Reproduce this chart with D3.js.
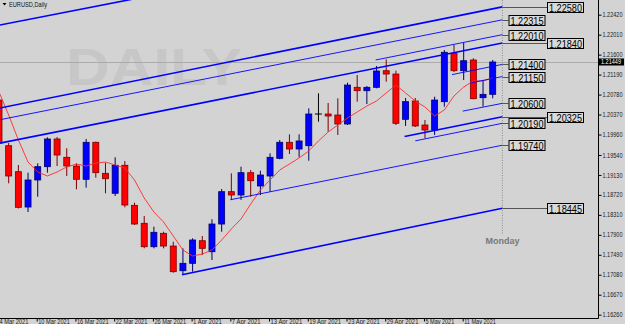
<!DOCTYPE html>
<html>
<head>
<meta charset="utf-8">
<script src="https://cdn.jsdelivr.net/npm/d3@7"></script>
<style>
  body { margin: 0; background: #d3d3d3; }
  svg { display: block; }
</style>
</head>
<body>
<div id="chart"></div>
<script>
// EURUSD daily candles, 4 Mar - 14 May 2021
const barDates = ["4 Mar 2021","5 Mar 2021","8 Mar 2021","9 Mar 2021","10 Mar 2021","11 Mar 2021","12 Mar 2021",
  "15 Mar 2021","16 Mar 2021","17 Mar 2021","18 Mar 2021","19 Mar 2021","22 Mar 2021","23 Mar 2021","24 Mar 2021",
  "25 Mar 2021","26 Mar 2021","29 Mar 2021","30 Mar 2021","31 Mar 2021","1 Apr 2021","2 Apr 2021","5 Apr 2021",
  "6 Apr 2021","7 Apr 2021","8 Apr 2021","9 Apr 2021","12 Apr 2021","13 Apr 2021","14 Apr 2021","15 Apr 2021",
  "16 Apr 2021","19 Apr 2021","20 Apr 2021","21 Apr 2021","22 Apr 2021","23 Apr 2021","26 Apr 2021","27 Apr 2021",
  "28 Apr 2021","29 Apr 2021","30 Apr 2021","3 May 2021","4 May 2021","5 May 2021","6 May 2021","7 May 2021",
  "10 May 2021","11 May 2021","12 May 2021","13 May 2021","14 May 2021"];

const opens = [1.20668,1.19730,1.19196,1.18471,1.19026,1.19299,1.19868,1.19492,1.19313,1.19040,1.19800,1.19163,
  1.18753,1.19328,1.18506,1.18137,1.17656,1.17931,1.17670,1.17163,1.17315,1.17779,1.17553,1.18122,1.18786,1.18718,
  1.19176,1.18903,1.19108,1.19471,1.19800,1.19662,1.19730,1.20381,1.20381,1.20360,1.20176,1.20929,1.20859,1.20929,
  1.21270,1.21202,1.20272,1.20648,1.20155,1.20052,1.20634,1.21627,1.21270,1.21490,1.20716,1.20785];
const highs = [1.20771,1.19786,1.19334,1.19176,1.19369,1.19903,1.19909,1.19677,1.19369,1.19868,1.19812,1.19381,
  1.19492,1.19416,1.18560,1.18287,1.18067,1.17964,1.17759,1.17623,1.17829,1.17876,1.18219,1.18841,1.19163,1.19299,
  1.19231,1.19217,1.19574,1.19847,1.19964,1.19964,1.20498,1.20806,1.20607,1.20703,1.21024,1.21182,1.20956,1.21367,
  1.21504,1.21270,1.20710,1.20710,1.20258,1.20736,1.21695,1.21798,1.21845,1.21525,1.21079,1.21490];
const lows = [1.19744,1.18958,1.18441,1.18369,1.18683,1.19176,1.19313,1.19108,1.18835,1.18868,1.19073,1.18753,
  1.18697,1.18465,1.18102,1.17623,1.17623,1.17623,1.17122,1.17075,1.17143,1.17486,1.17383,1.17964,1.18617,1.18617,
  1.18683,1.18718,1.18786,1.19451,1.19560,1.19492,1.19422,1.20223,1.20018,1.19950,1.20155,1.20634,1.20586,1.20909,
  1.21044,1.20155,1.20135,1.20114,1.19882,1.19950,1.20531,1.21243,1.21079,1.20683,1.20531,1.20703];
const closes = [1.19786,1.19108,1.18465,1.19026,1.19299,1.19868,1.19539,1.19313,1.19040,1.19800,1.19176,1.19052,
  1.19328,1.18512,1.18122,1.17656,1.17952,1.17670,1.17143,1.17315,1.17794,1.17623,1.18122,1.18786,1.18718,1.19176,
  1.19011,1.19128,1.19492,1.19800,1.19662,1.19827,1.20381,1.20381,1.20340,1.20176,1.20976,1.20859,1.20929,1.21264,
  1.21202,1.20190,1.20634,1.20135,1.20052,1.20668,1.21648,1.21270,1.21475,1.20695,1.20785,1.21449];

// red moving average line
const maValues = [1.20833,1.20360,1.19847,1.19395,1.19190,1.19108,1.19190,1.19293,1.19354,1.19313,1.19375,1.19395,
  1.19334,1.19272,1.19026,1.18656,1.18369,1.18163,1.17876,1.17588,1.17465,1.17506,1.17588,1.17794,1.18020,1.18225,
  1.18533,1.18820,1.19026,1.19231,1.19354,1.19478,1.19621,1.19827,1.20011,1.20155,1.20299,1.20422,1.20545,1.20648,
  1.20812,1.20976,1.20812,1.20648,1.20525,1.20340,1.20463,1.20751,1.20935,1.21059,1.21059,1.21120];

// price axis tick labels
const axisPrices = [1.22420,1.22010,1.21600,1.21190,1.20780,1.20370,1.19960,1.19540,1.19130,1.18720,1.18310,
  1.17900,1.17490,1.17080,1.16670,1.16260];

// date labels on the time axis
const dateTicks = ["4 Mar 2021","10 Mar 2021","16 Mar 2021","22 Mar 2021","26 Mar 2021","1 Apr 2021","7 Apr 2021",
  "13 Apr 2021","19 Apr 2021","23 Apr 2021","29 Apr 2021","5 May 2021","11 May 2021"];

// trend lines: start bar / start price -> end bar / end price (bar 52 = Monday)
const lineStartBar   = [-1, -1, 38.9, -1, 46.8, 48.7, 47.9, 41.9, 43, 23.9, 18.9, -1];
const lineStartPrice = [1.2046, 1.2022, 1.2149, 1.1974, 1.2119, 1.2102, 1.2044, 1.1992, 1.1983, 1.1862, 1.1708, 1.22165];
const lineEndBar     = [52, 52, 52, 52, 52, 52, 52, 52, 52, 52, 52, 20];
const lineEndPrice   = [1.22580, 1.22315, 1.22010, 1.21840, 1.21400, 1.21150, 1.20600, 1.20325, 1.20190, 1.19740, 1.18445, 1.2298];

const width = 625, height = 324;
const plotRight = 598, plotBottom = 318;
const thickLines = new Set([0, 3, 7, 10, 11]);
const font = "Liberation Sans, Arial, sans-serif";

const svg = d3.select("#chart")
  .append("svg")
  .attr("width", width)
  .attr("height", height)
  .style("background", "#d3d3d3");

// scales: bar index -> x, price -> y
const x = d3.scaleLinear().domain([0, 52]).range([-1, 502.4]);
const y = d3.scaleLinear().domain([1.1626, 1.2242]).range([314.7, 14.7]);

svg.append("defs").append("clipPath").attr("id", "plotClip")
  .append("rect").attr("x", 0).attr("y", 0).attr("width", plotRight).attr("height", plotBottom);

const plot = svg.append("g").attr("clip-path", "url(#plotClip)");

// watermark
plot.append("text")
  .attr("x", 66).attr("y", 85)
  .attr("font-family", font).attr("font-weight", "bold").attr("font-size", 52)
  .attr("fill", "#c7c7c7")
  .attr("textLength", 176).attr("lengthAdjust", "spacingAndGlyphs")
  .text("DAILY");

// current price line
plot.append("line")
  .attr("x1", 0).attr("x2", plotRight)
  .attr("y1", Math.round(y(closes[51])) + 0.5).attr("y2", Math.round(y(closes[51])) + 0.5)
  .attr("stroke", "#ababab");

// Monday separator
plot.append("line")
  .attr("x1", x(52)).attr("x2", x(52)).attr("y1", 0).attr("y2", 234)
  .attr("stroke", "#8c8c8c").attr("stroke-dasharray", "1,1.5");
plot.append("text")
  .attr("x", x(52)).attr("y", 244)
  .attr("text-anchor", "middle")
  .attr("font-family", font).attr("font-weight", "bold").attr("font-size", 9)
  .attr("fill", "#787878")
  .text("Monday");

// candles
const bars = barDates.map((d, i) => ({ i: i, o: opens[i], h: highs[i], l: lows[i], c: closes[i] }));
const barColor = d => d.c > d.o ? "#0000ff" : (d.c < d.o ? "#ff0000" : "#000000");
const edgeColor = d => d.c > d.o ? "#00006a" : (d.c < d.o ? "#7a0000" : "#000000");

const candles = plot.append("g").selectAll("g")
  .data(bars)
  .join("g");

candles.append("line")
  .attr("x1", d => x(d.i)).attr("x2", d => x(d.i))
  .attr("y1", d => y(d.h)).attr("y2", d => y(d.l))
  .attr("stroke", edgeColor);

candles.filter(d => d.c !== d.o).append("rect")
  .attr("x", d => x(d.i) - 3)
  .attr("y", d => y(Math.max(d.o, d.c)))
  .attr("width", 6)
  .attr("height", d => Math.max(1, Math.abs(y(d.o) - y(d.c))))
  .attr("fill", barColor)
  .attr("stroke", edgeColor).attr("stroke-width", 0.8);

candles.filter(d => d.c === d.o).append("line")
  .attr("x1", d => x(d.i) - 3.5).attr("x2", d => x(d.i) + 3.5)
  .attr("y1", d => y(d.o)).attr("y2", d => y(d.o))
  .attr("stroke", "#000");

// moving average
plot.append("path")
  .datum(maValues)
  .attr("d", d3.line().x((d, i) => x(i)).y(d => y(d)))
  .attr("fill", "none")
  .attr("stroke", "#ff2a2a")
  .attr("stroke-width", 0.9);

// trend lines
plot.append("g").selectAll("line")
  .data(lineEndPrice.map((p, i) => i))
  .join("line")
  .attr("x1", i => x(lineStartBar[i])).attr("y1", i => y(lineStartPrice[i]))
  .attr("x2", i => x(lineEndBar[i])).attr("y2", i => y(lineEndPrice[i]))
  .attr("stroke", "#0000ff")
  .attr("stroke-width", i => thickLines.has(i) ? 1.6 : 0.9);

// price labels at the end of each trend line
const labelled = lineEndPrice.map((p, i) => i).filter(i => lineEndBar[i] === 52);
const labels = plot.append("g").selectAll("g")
  .data(labelled)
  .join("g")
  .attr("transform", i => `translate(${thickLines.has(i) ? 547 : 508.5},${Math.round(y(lineEndPrice[i]))})`);

labels.append("line")
  .attr("x1", i => x(52) - (thickLines.has(i) ? 547 : 508.5)).attr("x2", 0)
  .attr("y1", 0.5).attr("y2", 0.5)
  .attr("stroke", "#555");

labels.append("rect")
  .attr("x", 0.5).attr("y", -4.5)
  .attr("width", 36).attr("height", 10)
  .attr("fill", "#d9d9d9").attr("stroke", "#000");

labels.append("text")
  .attr("x", 2).attr("y", 4.5)
  .attr("font-family", font).attr("font-size", 11)
  .attr("textLength", 33).attr("lengthAdjust", "spacingAndGlyphs")
  .attr("fill", "#000")
  .text(i => d3.format(".5f")(lineEndPrice[i]));

// price axis
const yAxis = d3.axisRight(y)
  .tickValues(axisPrices)
  .tickSize(3)
  .tickFormat(d3.format(".5f"));

svg.append("g")
  .attr("transform", `translate(${plotRight + 0.5},0)`)
  .call(yAxis)
  .call(g => g.select(".domain").remove())
  .call(g => g.selectAll("line").attr("stroke", "#000"))
  .call(g => g.selectAll("text")
    .attr("x", 4)
    .attr("font-family", font).attr("font-size", 6.5)
    .attr("textLength", 20).attr("lengthAdjust", "spacingAndGlyphs")
    .attr("fill", "#222"));

// time axis
const xAxis = d3.axisBottom(x)
  .tickValues(dateTicks.map(d => barDates.indexOf(d)))
  .tickSize(3)
  .tickFormat(i => barDates[i]);

svg.append("g")
  .attr("transform", `translate(-1,${plotBottom + 0.5})`)
  .call(xAxis)
  .call(g => g.select(".domain").remove())
  .call(g => g.selectAll("line").attr("stroke", "#000"))
  .call(g => g.selectAll("text")
    .attr("text-anchor", "start")
    .attr("x", 1).attr("y", 0).attr("dy", 5)
    .attr("font-family", font).attr("font-size", 6.8)
    .attr("textLength", d => barDates[d].length * 2.88).attr("lengthAdjust", "spacingAndGlyphs")
    .attr("fill", "#222"));

// axis frame
svg.append("line").attr("x1", plotRight + 0.5).attr("x2", plotRight + 0.5).attr("y1", 0).attr("y2", plotBottom + 0.5)
  .attr("stroke", "#000");
svg.append("line").attr("x1", 0).attr("x2", plotRight + 0.5).attr("y1", plotBottom + 0.5).attr("y2", plotBottom + 0.5)
  .attr("stroke", "#000");

// current price tag
const tagY = y(closes[51]);
svg.append("rect")
  .attr("x", 599).attr("y", tagY - 3.5).attr("width", 25).attr("height", 7)
  .attr("fill", "#000");
svg.append("text")
  .attr("x", 601).attr("y", tagY + 2.3)
  .attr("font-family", font).attr("font-size", 6.5)
  .attr("textLength", 20).attr("lengthAdjust", "spacingAndGlyphs")
  .attr("fill", "#fff")
  .text(d3.format(".5f")(closes[51]));

// chart title
svg.append("path")
  .attr("d", "M2.5,3 L6.5,3 L4.5,5.5 Z")
  .attr("fill", "#000");
svg.append("text")
  .attr("x", 9).attr("y", 7)
  .attr("font-family", font).attr("font-size", 7)
  .attr("textLength", 38).attr("lengthAdjust", "spacingAndGlyphs")
  .attr("fill", "#111")
  .text("EURUSD,Daily");
</script>
</body>
</html>
